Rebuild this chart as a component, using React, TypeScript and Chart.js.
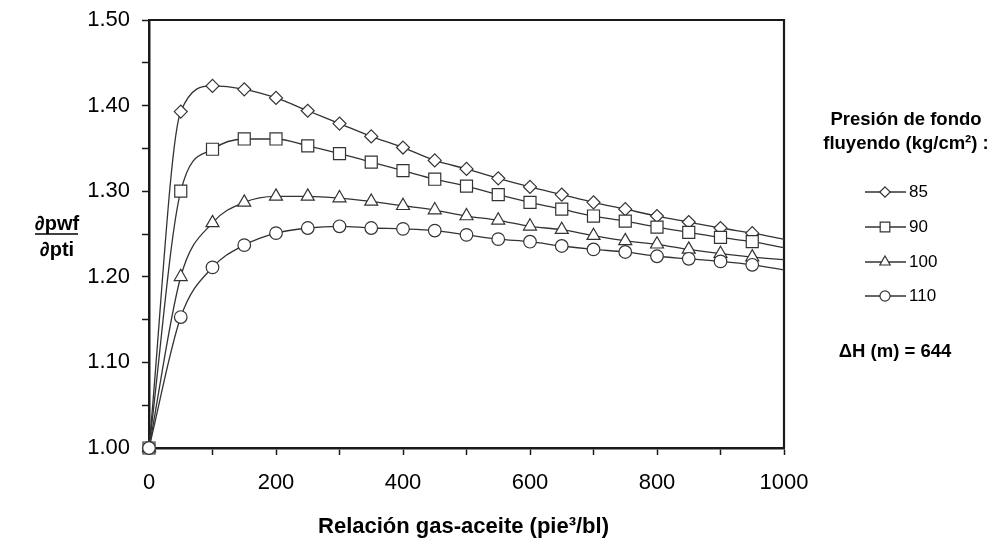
import React, { useEffect, useRef } from 'react';
import { Chart, registerables } from 'chart.js';

Chart.register(...registerables);

// ---- data ----
const xValues = [0, 50, 100, 150, 200, 250, 300, 350, 400, 450, 500, 550, 600, 650, 700, 750, 800, 850, 900, 950, 1000];
const s85 = [1.000, 1.393, 1.423, 1.419, 1.409, 1.394, 1.379, 1.364, 1.351, 1.336, 1.326, 1.315, 1.305, 1.296, 1.287, 1.279, 1.271, 1.264, 1.257, 1.251, 1.244];
const s90 = [1.000, 1.300, 1.349, 1.361, 1.361, 1.353, 1.344, 1.334, 1.324, 1.314, 1.306, 1.296, 1.287, 1.279, 1.271, 1.265, 1.258, 1.252, 1.246, 1.241, 1.234];
const s100 = [1.000, 1.200, 1.263, 1.287, 1.294, 1.294, 1.292, 1.288, 1.283, 1.278, 1.271, 1.266, 1.259, 1.255, 1.248, 1.242, 1.238, 1.232, 1.227, 1.223, 1.220];
const s110 = [1.000, 1.153, 1.211, 1.237, 1.251, 1.257, 1.259, 1.257, 1.256, 1.254, 1.249, 1.244, 1.241, 1.236, 1.232, 1.229, 1.224, 1.221, 1.218, 1.214, 1.208];
const seriesLabels = ['85', '90', '100', '110'];
const seriesStyles = ['rectRot', 'rect', 'triangle', 'circle'];
const xTickLabels = ['0', '200', '400', '600', '800', '1000'];
const yTickLabels = ['1.00', '1.10', '1.20', '1.30', '1.40', '1.50'];

const FONT = "'Liberation Sans', Arial, sans-serif";
const INK = '#333333';
const AXIS = '#1a1a1a';
const markerRadius: Record<string, number> = { rectRot: 6.5, rect: 8.5, triangle: 7.5, circle: 6.3 };

function drawMarker(ctx: CanvasRenderingContext2D, style: string, x: number, y: number, r: number) {
  ctx.beginPath();
  if (style === 'circle') {
    ctx.arc(x, y, r, 0, Math.PI * 2);
  } else if (style === 'rect') {
    const s = Math.SQRT1_2 * r;
    ctx.rect(x - s, y - s, 2 * s, 2 * s);
  } else if (style === 'rectRot') {
    ctx.moveTo(x, y - r);
    ctx.lineTo(x + r, y);
    ctx.lineTo(x, y + r);
    ctx.lineTo(x - r, y);
    ctx.closePath();
  } else if (style === 'triangle') {
    let a = 0;
    ctx.moveTo(x + Math.sin(a) * r, y - Math.cos(a) * r);
    a += (2 * Math.PI) / 3;
    ctx.lineTo(x + Math.sin(a) * r, y - Math.cos(a) * r);
    a += (2 * Math.PI) / 3;
    ctx.lineTo(x + Math.sin(a) * r, y - Math.cos(a) * r);
    ctx.closePath();
  }
  ctx.fillStyle = '#ffffff';
  ctx.fill();
  ctx.strokeStyle = INK;
  ctx.lineWidth = 1.2;
  ctx.stroke();
}

const framePlugin = {
  id: 'frame',
  beforeDatasetsDraw(chart: any) {
    const { ctx, chartArea } = chart;
    ctx.save();
    ctx.strokeStyle = AXIS;
    ctx.lineWidth = 2.2;
    ctx.beginPath();
    ctx.moveTo(chartArea.left, chartArea.top);
    ctx.lineTo(chartArea.right, chartArea.top);
    ctx.lineTo(chartArea.right, chartArea.bottom);
    ctx.stroke();
    ctx.restore();
  },
  afterDraw(chart: any) {
    const { ctx, chartArea } = chart;
    ctx.save();
    ctx.fillStyle = '#000';
    // x-axis title
    ctx.font = `bold 22px ${FONT}`;
    ctx.textAlign = 'center';
    ctx.textBaseline = 'middle';
    ctx.fillText('Relación gas-aceite (pie³/bl)', (chartArea.left + chartArea.right) / 2 - 3, 527);
    // y-axis title as fraction
    ctx.font = `bold 20px ${FONT}`;
    ctx.textBaseline = 'alphabetic';
    ctx.fillText('∂pwf', 57, 230);
    ctx.fillText('∂pti', 57, 256);
    ctx.strokeStyle = '#000';
    ctx.lineWidth = 1.5;
    ctx.beginPath();
    ctx.moveTo(35, 234);
    ctx.lineTo(78, 234);
    ctx.stroke();
    // legend title
    ctx.font = `bold 18.5px ${FONT}`;
    ctx.textBaseline = 'middle';
    ctx.fillText('Presión de fondo', 906, 120);
    ctx.fillText('fluyendo (kg/cm²) :', 906, 144);
    // legend entries
    const rows = [192, 227, 262, 296];
    seriesLabels.forEach((lab, i) => {
      const y = rows[i];
      ctx.strokeStyle = INK;
      ctx.lineWidth = 1.3;
      ctx.beginPath();
      ctx.moveTo(865, y);
      ctx.lineTo(906, y);
      ctx.stroke();
      drawMarker(ctx, seriesStyles[i], 885, y, markerRadius[seriesStyles[i]] * 0.8);
      ctx.fillStyle = '#000';
      ctx.font = `17px ${FONT}`;
      ctx.textAlign = 'left';
      ctx.fillText(lab, 909, y);
    });
    // delta H note
    ctx.font = `bold 18.5px ${FONT}`;
    ctx.textAlign = 'center';
    ctx.fillText('ΔH (m) = 644', 895, 352);
    ctx.restore();
  },
};

export default function App() {
  const ref = useRef<HTMLCanvasElement | null>(null);

  useEffect(() => {
    if (!ref.current) return;
    const all = [s85, s90, s100, s110];
    const last = xValues.length - 1;
    const datasets = all.map((vals, i) => ({
      label: seriesLabels[i],
      data: xValues.map((x, j) => ({ x, y: vals[j] })),
      borderColor: INK,
      borderWidth: 1.3,
      backgroundColor: '#ffffff',
      pointStyle: seriesStyles[i],
      pointRadius: (c: any) => (c.dataIndex === last ? 0 : markerRadius[seriesStyles[i]]),
      pointBorderColor: INK,
      pointBackgroundColor: '#ffffff',
      pointBorderWidth: 1.2,
      pointHoverRadius: markerRadius[seriesStyles[i]],
      cubicInterpolationMode: 'monotone' as const,
      clip: false as any,
      order: 4 - i,
    }));

    const chart = new Chart(ref.current, {
      type: 'line',
      data: { datasets },
      plugins: [framePlugin],
      options: {
        responsive: false,
        animation: false,
        devicePixelRatio: 1,
        layout: { padding: { left: 89, right: 208, top: 20, bottom: 35 } },
        plugins: { legend: { display: false }, tooltip: { enabled: false }, title: { display: false } },
        scales: {
          x: {
            type: 'linear',
            min: 0,
            max: 1000,
            afterFit: (s: any) => { s.height = 60; s.paddingLeft = 0; s.paddingRight = 0; },
            grid: { display: true, drawOnChartArea: false, drawTicks: true, tickLength: 7, tickColor: AXIS, tickWidth: 1.5 },
            border: { display: true, color: AXIS, width: 2.5 },
            ticks: {
              stepSize: 100,
              autoSkip: false,
              maxRotation: 0,
              padding: 15,
              color: '#000',
              font: { family: FONT, size: 22 },
              callback: (v: any) => {
                const s = String(Math.round(Number(v)));
                return xTickLabels.includes(s) ? s : '';
              },
            },
          },
          y: {
            type: 'linear',
            min: 1.0,
            max: 1.5,
            afterFit: (s: any) => { s.width = 60; s.paddingTop = 0; s.paddingBottom = 0; },
            grid: { display: true, drawOnChartArea: false, drawTicks: true, tickLength: 7, tickColor: AXIS, tickWidth: 1.5 },
            border: { display: true, color: AXIS, width: 2.5 },
            ticks: {
              stepSize: 0.05,
              autoSkip: false,
              padding: 12,
              color: '#000',
              font: { family: FONT, size: 22 },
              callback: (v: any) => {
                const s = Number(v).toFixed(2);
                return yTickLabels.includes(s) ? s : '';
              },
            },
          },
        },
      },
    });
    return () => chart.destroy();
  }, []);

  return (
    <div style={{ position: 'absolute', left: 0, top: 0, width: 992, height: 543, background: '#fff' }}>
      <canvas ref={ref} width={992} height={543} style={{ display: 'block', width: 992, height: 543 }} />
    </div>
  );
}
